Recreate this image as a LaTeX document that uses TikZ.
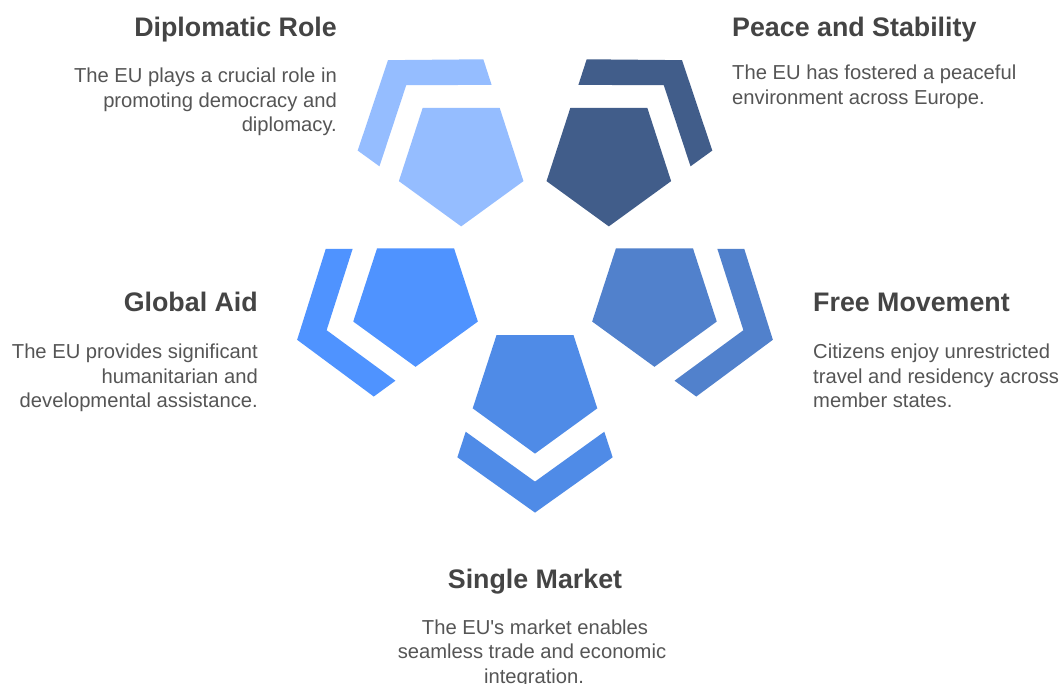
\documentclass[tikz,border=0pt]{standalone}
\usepackage{fontspec}
\setmainfont{Liberation Sans}[Ligatures=TeXOff]
\usetikzlibrary{calc}
\definecolor{cDip}{HTML}{95BDFF}
\definecolor{cPeace}{HTML}{415D8A}
\definecolor{cAid}{HTML}{4F93FF}
\definecolor{cFree}{HTML}{5181CC}
\definecolor{cMkt}{HTML}{4F8BE7}
\definecolor{ttl}{HTML}{444444}
\definecolor{bdy}{HTML}{555555}
\newcommand\petunit[3]{%
  \coordinate (#1) at ($(C)+(#2:125.6)$);
  \fill[#3, shift={(#1)}] (90:65.5) -- (162:65.5) -- (234:65.5) -- (306:65.5) -- (18:65.5) -- cycle;
  \fill[#3, shift={(#1)}] ({#2-48.3}:104) -- (#2:124.5) -- ({#2+48.3}:104)
      -- ({#2+57.8}:81.9) -- (#2:93.5) -- ({#2-57.8}:81.9) -- cycle;
}
\begin{document}
\begin{tikzpicture}[x=1pt,y=-1pt,
  ttlstyle/.style={font=\fontsize{26.8}{30}\selectfont\bfseries, text=ttl, inner sep=0pt},
  bdystyle/.style={font=\fontsize{20.2}{23}\selectfont, text=bdy, inner sep=0pt}]
\useasboundingbox (0,0) rectangle (1062,684);
\fill[white] (0,0) rectangle (1062,684);
\coordinate (C) at (535,262.5);
\petunit{pDip}{234}{cDip}
\petunit{pPeace}{306}{cPeace}
\petunit{pAid}{162}{cAid}
\petunit{pFree}{18}{cFree}
\petunit{pMkt}{90}{cMkt}

% Diplomatic Role
\node[ttlstyle, anchor=base east] (dipT) at (337,36.5) {Diplomatic Role};
\node[bdystyle, anchor=base east] (dipA) at (337,83) {The EU plays a crucial role in};
\node[bdystyle, anchor=base east] (dipB) at (337,107.5) {promoting democracy and};
\node[bdystyle, anchor=base east] (dipC) at (337,132) {diplomacy.};

% Peace and Stability
\node[ttlstyle, anchor=base west] (peaT) at (732,36.5) {Peace and Stability};
\node[bdystyle, anchor=base west] (peaA) at (732,80) {The EU has fostered a peaceful};
\node[bdystyle, anchor=base west] (peaB) at (732,104.5) {environment across Europe.};

% Global Aid
\node[ttlstyle, anchor=base east] (aidT) at (258,312) {Global Aid};
\node[bdystyle, anchor=base east] (aidA) at (258,358.5) {The EU provides significant};
\node[bdystyle, anchor=base east] (aidB) at (258,383) {humanitarian and};
\node[bdystyle, anchor=base east] (aidC) at (258,407.5) {developmental assistance.};

% Free Movement
\node[ttlstyle, anchor=base west] (freT) at (813,312) {Free Movement};
\node[bdystyle, anchor=base west] (freA) at (813,358.5) {Citizens enjoy unrestricted};
\node[bdystyle, anchor=base west] (freB) at (813,383) {travel and residency across};
\node[bdystyle, anchor=base west] (freC) at (813,407.5) {member states.};

% Single Market
\node[ttlstyle, anchor=base] (mktT) at (535,588.5) {Single Market};
\node[bdystyle, anchor=base] (mktA) at (535,634) {The EU's market enables};
\node[bdystyle, anchor=base] (mktB) at (532,658.5) {seamless trade and economic};
\node[bdystyle, anchor=base] (mktC) at (534,683) {integration.};
\end{tikzpicture}
\end{document}
